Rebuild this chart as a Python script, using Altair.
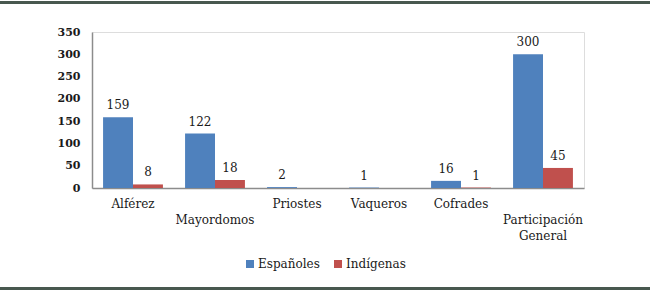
import altair as alt
import pandas as pd

categories = ["Alférez", "Mayordomos", "Priostes", "Vaqueros", "Cofrades", "Participación General"]
espanoles = [159, 122, 2, 1, 16, 300]
indigenas = [8, 18, 0, 0, 1, 45]
series = ["Españoles", "Indígenas"]
colors = ["#4F81BD", "#C0504D"]
y_ticks = [0, 50, 100, 150, 200, 250, 300, 350]
# multi-line x labels as they appear (first empty line = pushed down)
label_lines = {
    "Mayordomos": ["", "Mayordomos"],
    "Participación General": ["", "Participación", "General"],
}

rows = []
for i, c in enumerate(categories):
    rows.append({"cat": c, "serie": series[0], "v": espanoles[i]})
    rows.append({"cat": c, "serie": series[1], "v": indigenas[i]})
df = pd.DataFrame(rows)

expr = "datum.label"
for k, lines in label_lines.items():
    arr = "[" + ",".join("'" + s + "'" for s in lines) + "]"
    expr = f"datum.label == '{k}' ? {arr} : ({expr})"

FONT = "DejaVu Serif"
TXT = "#1a1a1a"

base = alt.Chart(df)
x = alt.X("cat:N", sort=categories, title=None,
          scale=alt.Scale(paddingInner=0.27, paddingOuter=0.135),
          axis=alt.Axis(labelAngle=0, ticks=False, domainColor="#8c8c8c", domainWidth=1.5,
                        labelFont=FONT, labelFontSize=12, labelColor=TXT, labelPadding=10,
                        labelLineHeight=16, labelExpr=expr, labelBaseline="top"))
xo = alt.XOffset("serie:N", sort=series, scale=alt.Scale(paddingInner=0))
y = alt.Y("v:Q", title=None, scale=alt.Scale(domain=[0, 350], nice=False),
          axis=alt.Axis(values=y_ticks, grid=False, ticks=False, domainColor="#8c8c8c",
                        domainWidth=1.5, labelFont=FONT, labelFontSize=11, labelColor=TXT,
                        labelPadding=12, labelFontWeight="bold"))

bars = base.mark_bar().encode(
    x=x, xOffset=xo, y=y,
    color=alt.Color("serie:N", sort=series, scale=alt.Scale(domain=series, range=colors),
                    legend=alt.Legend(title=None, orient="none", legendX=152, legendY=226,
                                      direction="horizontal", symbolType="square",
                                      symbolSize=64, symbolStrokeWidth=0,
                                      labelFont=FONT, labelFontSize=12, labelColor=TXT,
                                      labelOffset=2, columnPadding=12)),
)
labels = base.transform_filter("datum.v > 0").mark_text(
    dy=-5, font=FONT, fontSize=12, color=TXT, baseline="bottom"
).encode(x=x, xOffset=xo, y=y, text="v:Q")

line_df = pd.DataFrame({"k": [0]})
top_rule = alt.Chart(line_df).mark_rule(color="#48584f", strokeWidth=3).encode(
    x=alt.value(-92), x2=alt.value(558), y=alt.value(-29.5))
bot_rule = alt.Chart(line_df).mark_rule(color="#48584f", strokeWidth=3).encode(
    x=alt.value(-92), x2=alt.value(558), y=alt.value(256.5))

chart = alt.layer(bars, labels, top_rule, bot_rule).properties(
    width=492, height=156,
    autosize=alt.AutoSizeParams(type="none"),
    padding={"left": 92, "top": 32, "right": 66, "bottom": 103},
).configure_view(stroke=None).configure(background="white")

chart.save("out.html", embed_options={"renderer": "svg", "actions": False})
